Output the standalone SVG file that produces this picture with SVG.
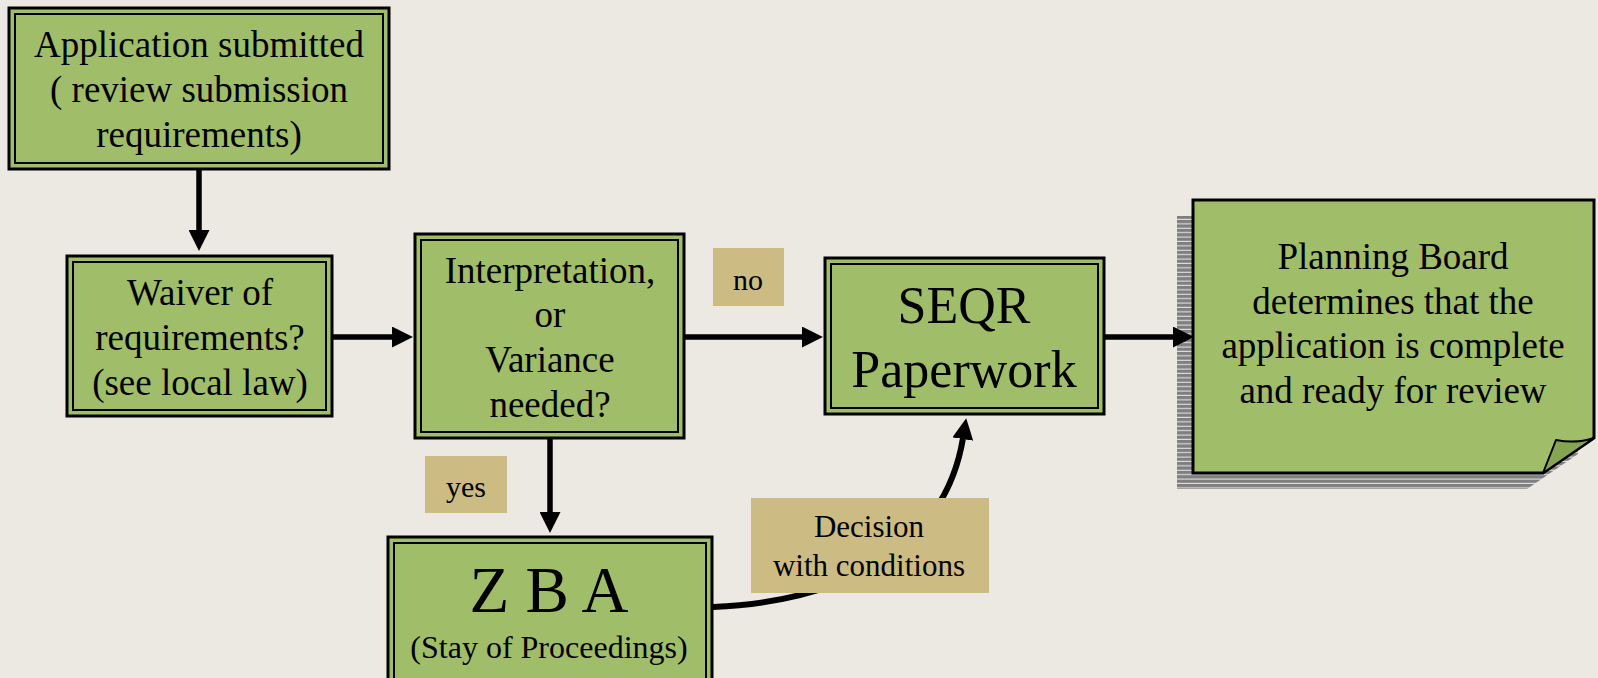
<svg xmlns="http://www.w3.org/2000/svg" width="1598" height="678" viewBox="0 0 1598 678">
<style>
.bg{fill:#ece8e2}
.box{fill:#a0bd6a;stroke:#000;stroke-width:3}
.inner{fill:none;stroke:#000;stroke-width:2}
.lbl{fill:#ccbc84}
.t{font-family:"Liberation Serif","Times New Roman",serif;fill:#000;text-anchor:middle}
.conn{fill:none;stroke:#000;stroke-width:5.5}
</style>
<defs>
<marker id="ah" viewBox="0 0 20 20" refX="1" refY="10" markerWidth="21" markerHeight="21" markerUnits="userSpaceOnUse" orient="auto">
<path d="M0,0 L20,10 L0,20 Z" fill="#000"/>
</marker>
<pattern id="stripes" patternUnits="userSpaceOnUse" width="10" height="4.4">
<rect width="10" height="4.4" fill="#e0e0e0"/>
<rect width="10" height="3.3" fill="#7f7f7f"/>
</pattern>
</defs>
<rect class="bg" width="1598" height="678"/>

<g id="n-application">
<rect class="box" x="9" y="8" width="380" height="161"/>
<rect class="inner" x="15" y="14" width="368" height="149"/>
<text class="t" font-size="37" x="199" y="57">Application submitted</text>
<text class="t" font-size="37" x="199" y="102">( review submission</text>
<text class="t" font-size="37" x="199" y="147">requirements)</text>
</g>

<g id="n-waiver">
<rect class="box" x="67" y="256" width="265" height="160"/>
<rect class="inner" x="73" y="262" width="253" height="148"/>
<text class="t" font-size="37" x="200" y="305">Waiver of</text>
<text class="t" font-size="37" x="200" y="350">requirements?</text>
<text class="t" font-size="37" x="200" y="395">(see local law)</text>
</g>

<g id="n-interpretation">
<rect class="box" x="415" y="234" width="269" height="204"/>
<rect class="inner" x="421" y="240" width="257" height="192"/>
<text class="t" font-size="37" x="550" y="283">Interpretation,</text>
<text class="t" font-size="37" x="550" y="327">or</text>
<text class="t" font-size="37" x="550" y="372">Variance</text>
<text class="t" font-size="37" x="550" y="417">needed?</text>
</g>

<g id="n-seqr">
<rect class="box" x="825" y="258" width="279" height="156"/>
<rect class="inner" x="831" y="264" width="267" height="144"/>
<text class="t" font-size="52" x="964" y="323">SEQR</text>
<text class="t" font-size="52" x="964" y="387">Paperwork</text>
</g>

<g id="n-planning">
<path d="M1177,216 L1578,216 L1578,454 L1527,489 L1177,489 Z" fill="url(#stripes)"/>
<path d="M1193,200 L1594,200 L1594,438 L1543,473 L1193,473 Z" fill="#a0bd6a" stroke="#000" stroke-width="3"/>
<path d="M1543,473 L1556,440 Q1576,444 1594,438 Z" fill="#86a552" stroke="#000" stroke-width="2" stroke-linejoin="round"/>
<text class="t" font-size="37" x="1393" y="269">Planning Board</text>
<text class="t" font-size="37" x="1393" y="314">determines that the</text>
<text class="t" font-size="37" x="1393" y="358">application is complete</text>
<text class="t" font-size="37" x="1393" y="403">and ready for review</text>
</g>

<g id="n-zba">
<rect class="box" x="388" y="537" width="324" height="170"/>
<rect class="inner" x="394" y="543" width="312" height="158"/>
<text class="t" font-size="65" x="549" y="612">Z B A</text>
<text class="t" font-size="32" x="549" y="658">(Stay of Proceedings)</text>
</g>

<g id="connectors">
<line class="conn" x1="199" y1="170" x2="199" y2="231" marker-end="url(#ah)"/>
<line class="conn" x1="333" y1="337" x2="393" y2="337" marker-end="url(#ah)"/>
<line class="conn" x1="685" y1="337" x2="803" y2="337" marker-end="url(#ah)"/>
<line class="conn" x1="1105" y1="337" x2="1174" y2="337" marker-end="url(#ah)"/>
<line class="conn" x1="550" y1="439" x2="550" y2="513" marker-end="url(#ah)"/>
<path class="conn" style="stroke-width:6" d="M713,607 C870,600 948,530 963,438" marker-end="url(#ah)"/>
</g>

<g id="l-no">
<rect class="lbl" x="713" y="248" width="71" height="58"/>
<text class="t" font-size="30" x="748" y="290">no</text>
</g>

<g id="l-yes">
<rect class="lbl" x="425" y="456" width="82" height="57"/>
<text class="t" font-size="30" x="466" y="497">yes</text>
</g>

<g id="l-decision">
<rect class="lbl" x="751" y="498" width="238" height="95"/>
<text class="t" font-size="31" x="869" y="537">Decision</text>
<text class="t" font-size="31" x="869" y="576">with conditions</text>
</g>
</svg>
